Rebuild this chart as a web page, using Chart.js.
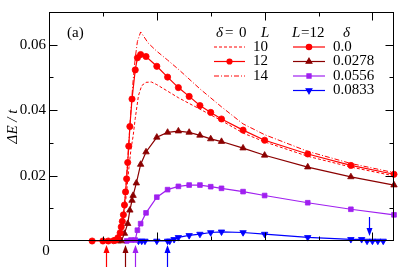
<!DOCTYPE html>
<html><head><meta charset="utf-8">
<script src="https://cdn.jsdelivr.net/npm/chart.js@4.4.0/dist/chart.umd.min.js"></script>
<style>html,body{margin:0;padding:0;background:#fff;}</style>
</head><body>
<canvas id="c" width="406" height="277" style="width:406px;height:277px;display:block"></canvas>
<script>
// ---- data ----
const yTickLabels = ['0.02', '0.04', '0.06'];

const xL10 = [0.6,0.63,0.66,0.68,0.70,0.72,0.74,0.76,0.78,0.80,0.83,0.86,0.9,0.95,1.0,1.1,1.2,1.4,1.6,1.8,2.0,2.4,2.8,3.2];
const yL10 = [0,0.0005,0.0025,0.005,0.009,0.015,0.022,0.028,0.032,0.0375,0.0445,0.0475,0.0485,0.0486,0.0478,0.0458,0.0438,0.0403,0.0368,0.0330,0.0303,0.0259,0.0226,0.0199];

const xL14 = [0.6,0.63,0.66,0.68,0.70,0.72,0.74,0.76,0.78,0.80,0.82,0.85,0.88,0.92,1.0,1.1,1.2,1.4,1.6,1.8,2.0,2.4,2.8,3.2];
const yL14 = [0,0.0003,0.002,0.005,0.011,0.020,0.030,0.040,0.049,0.056,0.0610,0.0639,0.0625,0.0605,0.0580,0.0553,0.0525,0.0465,0.0410,0.0358,0.0325,0.0274,0.0237,0.0209];

const xD0 = [0.4,0.5,0.55,0.6,0.62,0.64,0.66,0.67,0.68,0.69,0.70,0.71,0.72,0.73,0.74,0.75,0.77,0.80,0.82,0.85,0.9,1.0,1.1,1.2,1.3,1.4,1.5,1.6,1.8,2.0,2.4,2.8,3.2];
const yD0 = [0,0,0,0.0001,0.0003,0.0010,0.0025,0.0043,0.0060,0.0080,0.0110,0.0150,0.0190,0.0240,0.0290,0.0350,0.0434,0.0523,0.0560,0.0570,0.0564,0.0534,0.0501,0.0469,0.0442,0.0414,0.0393,0.0373,0.0339,0.0308,0.0266,0.0231,0.0204];

const xD1 = [0.64,0.67,0.70,0.73,0.75,0.77,0.78,0.81,0.85,0.9,1.0,1.1,1.2,1.3,1.4,1.5,1.6,1.8,2.0,2.4,2.8,3.2];
const yD1 = [0,0,0.0023,0.0053,0.0094,0.0124,0.0139,0.0177,0.0234,0.0272,0.0317,0.0332,0.0336,0.0332,0.0323,0.0312,0.0304,0.0284,0.0262,0.0226,0.0196,0.0171];

const xD2 = [0.72,0.76,0.80,0.82,0.85,0.9,1.0,1.1,1.2,1.3,1.4,1.5,1.6,1.8,2.0,2.4,2.8,3.2];
const yD2 = [0,0.0003,0.0003,0.0033,0.0053,0.0086,0.0134,0.0157,0.0167,0.0171,0.0171,0.0166,0.0161,0.0151,0.0139,0.0117,0.0097,0.0080];

const xD3 = [0.83,0.86,0.89,1.0,1.1,1.12,1.16,1.2,1.3,1.4,1.5,1.6,1.8,2.0,2.4,2.8,2.9,2.95,3.0,3.05,3.1];
const yD3 = [0,0,0,0,0,0,0.0005,0.0011,0.0017,0.0021,0.0026,0.0028,0.0026,0.0021,0.0011,0.0005,0.0005,0,0,0,0];

// arrows marking transition points
const upArrowX = [0.528, 0.704, 0.799, 1.099];
const upArrowSeries = [0, 1, 2, 3];
const downArrowX = [2.966];
const downArrowSeries = [3];

const deltaLabels = ['0.0', '0.0278', '0.0556', '0.0833'];
const sizeLabels = ['10', '12', '14'];

// ---- styles ----
const RED = 'rgb(255,0,0)', DRED = 'rgb(139,0,0)', PURP = 'rgb(160,32,240)', BLUE = 'rgb(0,0,255)';
const seriesColors = [RED, DRED, PURP, BLUE];
const seriesStyles = [
  {pointStyle:'circle', radius:3.1, rotation:0},
  {pointStyle:'triangle', radius:3.7, rotation:0},
  {pointStyle:'rect', radius:3.3, rotation:0},
  {pointStyle:'triangle', radius:3.7, rotation:180}
];
const FONT = '"Liberation Serif", "DejaVu Serif", serif';

function pts(xs, ys){ return xs.map((x,i)=>({x:x, y:ys[i]})); }

function markerDs(label, xs, ys, k){
  return {
    label: label, data: pts(xs, ys), borderColor: seriesColors[k], backgroundColor: seriesColors[k],
    borderWidth: 1.2, pointStyle: seriesStyles[k].pointStyle, pointRadius: seriesStyles[k].radius,
    pointRotation: seriesStyles[k].rotation, pointBorderWidth: 0.8, pointBorderColor: seriesColors[k],
    tension: 0, clip: false, showLine: true
  };
}

const datasets = [
  {label:'L10', data: pts(xL10, yL10), borderColor: RED, borderWidth: 1, borderDash:[3,2], pointRadius:0, tension:0, clip:false, showLine:true},
  {label:'L14', data: pts(xL14, yL14), borderColor: RED, borderWidth: 1, borderDash:[5,2,1,2], pointRadius:0, tension:0, clip:false, showLine:true},
  markerDs('0.0', xD0, yD0, 0),
  markerDs('0.0278', xD1, yD1, 1),
  markerDs('0.0556', xD2, yD2, 2),
  markerDs('0.0833', xD3, yD3, 3)
];

function drawArrow(ctx, x, yTail, yTip, color){
  ctx.save();
  ctx.strokeStyle = color; ctx.fillStyle = color; ctx.lineWidth = 1.2;
  const dir = yTip < yTail ? 1 : -1; // 1: pointing up
  const headLen = 8, halfW = 3;
  ctx.beginPath(); ctx.moveTo(x, yTail); ctx.lineTo(x, yTip + dir*headLen*0.8); ctx.stroke();
  ctx.beginPath(); ctx.moveTo(x, yTip); ctx.lineTo(x-halfW, yTip + dir*headLen); ctx.lineTo(x+halfW, yTip + dir*headLen); ctx.closePath(); ctx.fill();
  ctx.restore();
}

const decor = {
  id: 'decor',
  afterDatasetsDraw(chart){
    const ctx = chart.ctx, a = chart.chartArea, xs = chart.scales.x, ys = chart.scales.y;
    ctx.save();
    // frame
    ctx.strokeStyle = '#000'; ctx.lineWidth = 1;
    const L = Math.round(a.left)+0.5, R = Math.round(a.right)-0.5, T = Math.round(a.top)+0.5, B = Math.round(a.bottom)-0.5;
    ctx.strokeRect(L, T, R-L, B-T);
    // x ticks (top & bottom)
    ctx.beginPath();
    for (let v = 0.5; v < 3.2; v += 0.5){
      const px = Math.round(xs.getPixelForValue(v)) + 0.5;
      const len = Math.abs(v - Math.round(v)) < 1e-9 ? 8 : 4;
      ctx.moveTo(px, B); ctx.lineTo(px, B-len);
      ctx.moveTo(px, T); ctx.lineTo(px, T+len);
    }
    // y ticks (left & right)
    for (let k = 1; k < 7; k++){
      const v = k*0.01;
      const py = Math.round(ys.getPixelForValue(v)) + 0.5;
      const len = k % 2 === 0 ? 8 : 4;
      ctx.moveTo(L, py); ctx.lineTo(L+len, py);
      ctx.moveTo(R, py); ctx.lineTo(R-len, py);
    }
    ctx.stroke();

    // origin label
    ctx.fillStyle = '#000'; ctx.font = '15px ' + FONT; ctx.textAlign = 'center'; ctx.textBaseline = 'middle';
    ctx.fillText('0', a.left - 3, a.bottom + 10);
    // panel label
    ctx.textAlign = 'left';
    ctx.fillText('(a)', 67, 33);

    // arrows
    upArrowX.forEach((v,i)=>{
      const px = Math.round(xs.getPixelForValue(v)) + 0.5;
      drawArrow(ctx, px, a.bottom + 26, a.bottom + 4, seriesColors[upArrowSeries[i]]);
    });
    downArrowX.forEach((v,i)=>{
      const px = Math.round(xs.getPixelForValue(v)) + 0.5;
      drawArrow(ctx, px, a.bottom - 24, a.bottom - 5, seriesColors[downArrowSeries[i]]);
    });

    // legend headers
    const it = 'italic 15px ' + FONT, up = '15px ' + FONT;
    ctx.fillStyle = '#000';
    ctx.font = it; ctx.fillText('\u03b4', 216, 33);
    ctx.font = up; ctx.fillText('=', 225, 33); ctx.fillText('0', 239, 33);
    ctx.font = it; ctx.fillText('L', 261, 33);
    ctx.font = it; ctx.fillText('L', 292, 33);
    ctx.font = up; ctx.fillText('=12', 301, 33);
    ctx.font = it; ctx.fillText('\u03b4', 343, 33);

    // left legend (delta = 0, sizes)
    const rowY = [47, 61.5, 76, 90.5];
    const lx0 = 214, lx1 = 245;
    ctx.lineWidth = 1; ctx.strokeStyle = RED;
    ctx.setLineDash([3,2]); ctx.beginPath(); ctx.moveTo(lx0, rowY[0]); ctx.lineTo(lx1, rowY[0]); ctx.stroke();
    ctx.setLineDash([]); ctx.lineWidth = 1.2; ctx.beginPath(); ctx.moveTo(lx0, rowY[1]); ctx.lineTo(lx1, rowY[1]); ctx.stroke();
    ctx.fillStyle = RED; ctx.beginPath(); ctx.arc((lx0+lx1)/2, rowY[1], 3.1, 0, Math.PI*2); ctx.fill();
    ctx.lineWidth = 1; ctx.setLineDash([5,2,1,2]); ctx.beginPath(); ctx.moveTo(lx0, rowY[2]); ctx.lineTo(lx1, rowY[2]); ctx.stroke();
    ctx.setLineDash([]);
    ctx.fillStyle = '#000'; ctx.font = up;
    sizeLabels.forEach((s,i)=> ctx.fillText(s, 253, rowY[i]));

    // right legend (L = 12, deltas)
    const rx0 = 293, rx1 = 325;
    deltaLabels.forEach((s,i)=>{
      ctx.strokeStyle = seriesColors[i]; ctx.fillStyle = seriesColors[i]; ctx.lineWidth = 1.2;
      ctx.beginPath(); ctx.moveTo(rx0, rowY[i]); ctx.lineTo(rx1, rowY[i]); ctx.stroke();
      Chart.helpers.drawPoint(ctx, {pointStyle: seriesStyles[i].pointStyle, radius: seriesStyles[i].radius - 0.4, rotation: seriesStyles[i].rotation, borderWidth: 0.8}, (rx0+rx1)/2, rowY[i]);
      ctx.fillStyle = '#000'; ctx.font = up; ctx.fillText(s, 333, rowY[i]);
    });
    ctx.restore();
  }
};

new Chart(document.getElementById('c'), {
  type: 'scatter',
  data: { datasets: datasets },
  options: {
    responsive: false, animation: false, devicePixelRatio: 1,
    layout: { padding: { top: 9, right: 12, left: 0, bottom: 0 } },
    plugins: { legend: { display: false }, tooltip: { enabled: false } },
    scales: {
      x: {
        type: 'linear', min: 0, max: 3.2,
        grid: { display: false, drawTicks: false }, border: { display: false },
        ticks: { display: false },
        afterFit: (s) => { s.height = 36; }
      },
      y: {
        type: 'linear', min: 0, max: 0.07,
        grid: { display: false, drawTicks: false }, border: { display: false },
        ticks: {
          stepSize: 0.01, padding: 3, color: '#000',
          font: { family: FONT, size: 15 },
          callback: (v) => { const k = Math.round(v*100); return (k > 0 && k % 2 === 0) ? yTickLabels[k/2 - 1] : ''; }
        },
        title: { display: true, text: '\u0394E / t', color: '#000', font: { family: FONT, size: 15, style: 'italic' }, padding: { top: 4, bottom: 0 } },
        afterFit: (s) => { s.width = 49; }
      }
    }
  },
  plugins: [decor]
});
</script>
</body></html>
